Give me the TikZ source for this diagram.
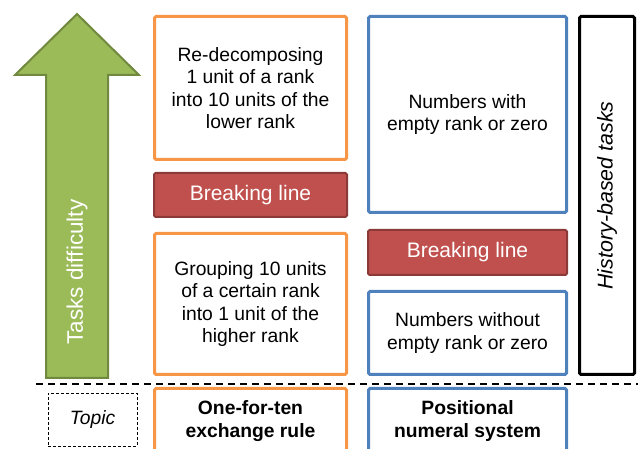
\documentclass[tikz,border=0pt]{standalone}
\usepackage{fontspec}
\setmainfont{Liberation Sans}
\usetikzlibrary{positioning}
\definecolor{tskorange}{HTML}{F79646}
\definecolor{tskblue}{HTML}{4F81BD}
\definecolor{tskred}{HTML}{C0504D}
\definecolor{tskredd}{HTML}{8C3A38}
\definecolor{tskgreen}{HTML}{9BBB59}
\definecolor{tskgreend}{HTML}{71893F}
\begin{document}
\begin{tikzpicture}[x=1pt,y=-1pt,on grid,
every node/.style={align=center,font=\fontsize{19.3}{22.5}\selectfont},
obox/.style={draw=tskorange,line width=3pt,rounded corners=1.5pt,fill=white,
    minimum width=192pt},
bbox/.style={draw=tskblue,line width=3pt,rounded corners=1.5pt,fill=white,
    minimum width=198pt},
brk/.style={draw=tskredd,fill=tskred,line width=2pt,rounded corners=1.5pt,
    text=white,font=\fontsize{21}{24}\selectfont},
topic/.style={font=\fontsize{19.3}{22.5}\selectfont\bfseries}]
\clip (0,0) rectangle (638,449);
% difficulty arrow
\draw[draw=tskgreend,fill=tskgreen,line width=2pt,line join=miter]
  (77,14) -- (139,75) -- (108,75) -- (108,378) -- (46,378) -- (46,75)
  -- (15,75) -- cycle;
\node[rotate=90,text=white,font=\fontsize{22.5}{25}\selectfont] (TD) at (77,272)
  {Tasks difficulty};
% one-for-ten column
\node[obox,minimum height=143pt] (RD) at (250.5,88)
  {Re-decomposing\\1 unit of a rank\\into 10 units of the\\lower rank};
\node[brk,minimum width=193pt,minimum height=44pt] (B1) [below=107pt of RD]
  {Breaking line};
\node[obox,minimum height=141pt] (GR) [below=109pt of B1]
  {Grouping 10 units\\of a certain rank\\into 1 unit of the\\higher rank};
\node[obox,topic,minimum height=65pt] (OT) [below=117pt of GR]
  {One-for-ten\\exchange rule};
% positional column
\node[bbox,minimum height=196pt] (NW) at (467.5,114.5)
  {Numbers with\\empty rank or zero};
\node[brk,minimum width=199pt,minimum height=45pt] (B2) [below=138pt of NW]
  {Breaking line};
\node[bbox,minimum height=83pt] (NO) [below=80.5pt of B2]
  {Numbers without\\empty rank or zero};
\node[bbox,topic,minimum height=65pt] (PN) [below=88pt of NO]
  {Positional\\numeral system};
% history tasks
\node[draw,line width=3pt,rounded corners=1.5pt,minimum width=55pt,
  minimum height=358pt] (HB) at (607,195.5) {};
\node[rotate=90,font=\fontsize{21.4}{24}\selectfont\itshape] (HT) at (HB.center)
  {History-based tasks};
% topic row
\coordinate (L1) at (36,384);
\coordinate (L2) at (638,384);
\draw[line width=1.5pt,dash pattern=on 7pt off 5pt] (L1) -- (L2);
\node[draw,line width=0.6pt,dash pattern=on 3pt off 2pt,minimum width=89pt,
  minimum height=53pt,font=\fontsize{19.3}{22.5}\selectfont\itshape] (TP)
  at (92.5,419.5) {Topic};
\end{tikzpicture}
\end{document}
